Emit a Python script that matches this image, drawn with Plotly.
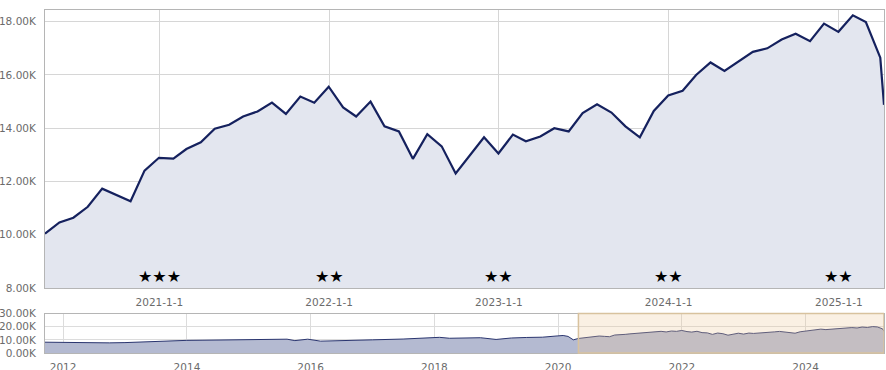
import pandas as pd
import plotly.graph_objects as go

# ---------------- data ----------------
# Main chart: month-end growth values (in thousands) from 2020-04-30, plus a final partial-month point
main_dates = list(pd.date_range("2020-04-30", periods=60, freq="ME").strftime("%Y-%m-%d")) + ["2025-04-08"]
main_values_k = [10.04, 10.46, 10.64, 11.05, 11.73, 11.49, 11.26, 12.41, 12.89, 12.86,
                 13.22, 13.47, 13.98, 14.13, 14.44, 14.63, 14.96, 14.54, 15.19, 14.96,
                 15.56, 14.78, 14.44, 15.00, 14.07, 13.88, 12.85, 13.78, 13.32, 12.30,
                 13.00, 13.66, 13.05, 13.76, 13.51, 13.69, 14.00, 13.88, 14.57, 14.90,
                 14.59, 14.07, 13.66, 14.65, 15.23, 15.41, 16.00, 16.47, 16.15, 16.50,
                 16.87, 17.00, 17.33, 17.55, 17.27, 17.93, 17.62, 18.24, 17.99, 16.65,
                 14.88]

# Navigator: full history (in thousands)
nav_dates_early = ["2011-09-16", "2011-12-31", "2012-03-31", "2012-05-31", "2012-09-30",
                   "2012-12-31", "2013-03-31", "2013-06-30", "2013-09-30", "2013-12-31",
                   "2014-03-31", "2014-06-30", "2014-09-30", "2014-12-31", "2015-03-31",
                   "2015-06-30", "2015-08-15", "2015-09-30", "2015-12-15", "2016-02-29",
                   "2016-06-30", "2016-12-31", "2017-06-30", "2017-12-31", "2018-01-31",
                   "2018-03-31", "2018-09-30", "2018-12-31", "2019-03-31", "2019-06-30",
                   "2019-09-30", "2019-12-31", "2020-01-31", "2020-02-29", "2020-03-31"]
nav_values_early_k = [8.2, 8.0, 8.1, 7.5, 7.7,
                      7.9, 8.4, 8.6, 9.0, 9.6,
                      9.7, 9.9, 10.0, 10.1, 10.4,
                      10.6, 10.5, 9.4, 10.5, 9.0,
                      9.6, 10.0, 10.6, 11.3, 11.9,
                      11.2, 11.6, 10.3, 11.4, 11.8,
                      12.0, 13.0, 13.3, 12.6, 10.0]
nav_values_late_k = [11.04, 11.51, 11.70, 12.16, 12.90, 12.64, 12.39, 13.65, 14.18, 14.15,
                     14.54, 14.82, 15.38, 15.54, 15.88, 16.09, 16.46, 15.99, 16.71, 16.46,
                     17.12, 16.26, 15.88, 16.50, 15.48, 15.27, 14.14, 15.16, 14.65, 13.53,
                     14.30, 15.03, 14.36, 15.14, 14.86, 15.06, 15.40, 15.27, 16.03, 16.39,
                     16.05, 15.48, 15.03, 16.12, 16.75, 16.95, 17.60, 18.12, 17.77, 18.15,
                     18.56, 18.70, 19.06, 19.31, 19.00, 19.72, 19.38, 20.06, 19.79, 18.32,
                     16.37]
nav_dates = nav_dates_early + main_dates
nav_values_k = nav_values_early_k + nav_values_late_k

main_y_ticks_k = [8, 10, 12, 14, 16, 18]
main_x_ticks = ["2021-01-01", "2022-01-01", "2023-01-01", "2024-01-01", "2025-01-01"]
main_x_labels = ["2021-1-1", "2022-1-1", "2023-1-1", "2024-1-1", "2025-1-1"]
star_texts = ["★★★", "★★", "★★", "★★", "★★"]

nav_y_ticks_k = [0, 10, 20, 30]
nav_x_ticks = ["2012-01-01", "2014-01-01", "2016-01-01", "2018-01-01",
               "2020-01-01", "2022-01-01", "2024-01-01"]
nav_x_labels = ["2012", "2014", "2016", "2018", "2020", "2022", "2024"]

selection_start = "2020-04-30"
selection_end = "2025-04-08"

# ---------------- figure ----------------
W, H = 886, 370
xdom = [45 / W, 884 / W]
main_ydom = [1 - 288 / H, 1 - 10 / H]
nav_ydom = [1 - 353 / H, 1 - 313.5 / H]

tickfont = dict(family="DejaVu Sans, Verdana, sans-serif", size=10.5, color="#6b6b6b")
grid = "#d6d6d6"
border = "#b5b5b5"

fig = go.Figure()
fig.add_trace(go.Scatter(
    x=main_dates, y=[v * 1000 for v in main_values_k], mode="lines",
    line=dict(color="#15215e", width=2.2), fill="tozeroy", fillcolor="#e3e6ef",
    xaxis="x", yaxis="y", hoverinfo="skip"))
fig.add_trace(go.Scatter(
    x=nav_dates, y=[v * 1000 for v in nav_values_k], mode="lines",
    line=dict(color="#2a356f", width=1), fill="tozeroy", fillcolor="#b4bad1",
    xaxis="x2", yaxis="y2", hoverinfo="skip"))

for d, t in zip(main_x_ticks, star_texts):
    fig.add_annotation(x=d, y=8440, xref="x", yref="y", text=t, showarrow=False,
                       font=dict(family="DejaVu Sans", size=16, color="#000000"))

fig.add_shape(type="rect", xref="x2", yref="y2 domain", x0=selection_start, x1=selection_end,
              y0=0, y1=1, fillcolor="rgba(237,201,155,0.28)",
              line=dict(color="#d8c29e", width=1.5), layer="above")

fig.update_layout(
    width=W, height=H, margin=dict(l=0, r=0, t=0, b=0),
    paper_bgcolor="white", plot_bgcolor="white", showlegend=False,
    xaxis=dict(domain=xdom, anchor="y", type="date",
               range=[main_dates[0], main_dates[-1]],
               tickvals=main_x_ticks, ticktext=main_x_labels, tickfont=tickfont,
               showgrid=True, gridcolor=grid, gridwidth=1, zeroline=False,
               showline=True, mirror=True, linecolor=border, linewidth=1,
               ticks="", ticklabelstandoff=4, automargin=False),
    yaxis=dict(domain=main_ydom, anchor="x", range=[8000, 18440],
               tickvals=[v * 1000 for v in main_y_ticks_k],
               ticktext=["%.2fK" % v for v in main_y_ticks_k], tickfont=tickfont,
               showgrid=True, gridcolor=grid, gridwidth=1, zeroline=False,
               showline=True, mirror=True, linecolor=border, linewidth=1,
               ticks="", ticklabelstandoff=6, automargin=False),
    xaxis2=dict(domain=xdom, anchor="y2", type="date",
                range=[nav_dates[0], nav_dates[-1]],
                tickvals=nav_x_ticks, ticktext=nav_x_labels, tickfont=tickfont,
                showgrid=True, gridcolor="#dcdcdc", gridwidth=1, zeroline=False,
                showline=True, mirror=True, linecolor=border, linewidth=1,
                ticks="", ticklabelstandoff=4, automargin=False),
    yaxis2=dict(domain=nav_ydom, anchor="x2", range=[0, 30000],
                tickvals=[v * 1000 for v in nav_y_ticks_k],
                ticktext=["%.2fK" % v for v in nav_y_ticks_k], tickfont=tickfont,
                showgrid=True, gridcolor="#dcdcdc", gridwidth=1, zeroline=False,
                showline=True, mirror=True, linecolor=border, linewidth=1,
                ticks="", ticklabelstandoff=6, automargin=False),
)

fig.write_html("out.html", config={"displayModeBar": False},
               post_script="document.body.style.margin='0px';")
